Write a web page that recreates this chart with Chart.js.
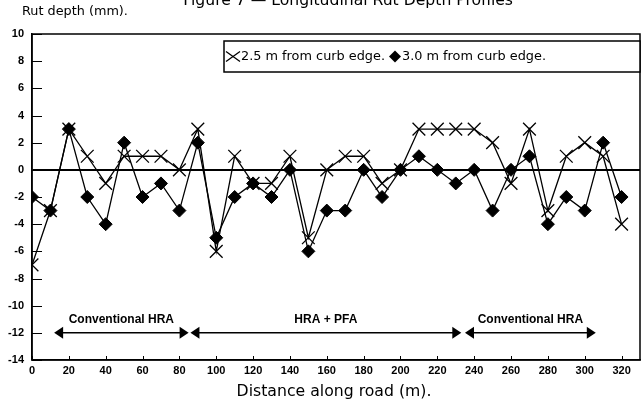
<!DOCTYPE html>
<html>
<head>
<meta charset="utf-8">
<script src="https://cdn.jsdelivr.net/npm/chart.js@4.4.1/dist/chart.umd.min.js"></script>
<style>
  html, body { margin: 0; padding: 0; background: #fff; }
  #wrap { width: 643px; height: 406px; position: relative; }
</style>
</head>
<body>
<div id="wrap"><canvas id="c" width="643" height="406"></canvas></div>
<script>
// ---- data ----
const distances = [0,10,20,30,40,50,60,70,80,90,100,110,120,130,140,150,160,170,180,190,200,210,220,230,240,250,260,270,280,290,300,310,320];
const rut25 = [-7,-3,3,1,-1,1,1,1,0,3,-6,1,-1,-1,1,-5,0,1,1,-1,0,3,3,3,3,2,-1,3,-3,1,2,1,-4];
const rut30 = [-2,-3,3,-2,-4,2,-2,-1,-3,2,-5,-2,-1,-2,0,-6,-3,-3,0,-2,0,1,0,-1,0,-3,0,1,-4,-2,-3,2,-2];
const xTickValues = [0,20,40,60,80,100,120,140,160,180,200,220,240,260,280,300,320];
const yTickValues = [-14,-12,-10,-8,-6,-4,-2,0,2,4,6,8,10];
const seriesNames = ['2.5 m from curb edge.', '3.0 m from curb edge.'];
const sectionLabels = ['Conventional HRA', 'HRA + PFA', 'Conventional HRA'];
const sectionStarts = [12, 86, 235];
const sectionEnds = [85, 233, 306];
const sectionLevel = -12;
const titleText = 'Figure 7 \u2014 Longitudinal Rut Depth Profiles';
const yTitle = 'Rut depth (mm).';
const xTitle = 'Distance along road (m).';

const FONT = '"Liberation Sans", Arial, Helvetica, sans-serif';
const TFONT = '"DejaVu Sans", "Liberation Sans", sans-serif';

function fitSize(ctx, text, width, weight, family) {
  ctx.font = weight + ' 20px ' + family;
  return 20 * width / ctx.measureText(text).width;
}

const decor = {
  id: 'decor',
  afterDraw(chart) {
    const {ctx, chartArea: a, scales: {x, y}} = chart;
    ctx.save();
    // frame
    ctx.strokeStyle = '#000';
    ctx.lineWidth = 1.5;
    ctx.strokeRect(a.left, a.top, a.right - a.left, a.bottom - a.top);
    // inward ticks
    ctx.lineWidth = 1;
    yTickValues.forEach(v => {
      const py = Math.round(y.getPixelForValue(v)) + 0.5;
      ctx.beginPath(); ctx.moveTo(a.left, py); ctx.lineTo(a.left + 10, py); ctx.stroke();
    });
    xTickValues.forEach(v => {
      const px = Math.round(x.getPixelForValue(v)) + 0.5;
      ctx.beginPath(); ctx.moveTo(px, a.bottom); ctx.lineTo(px, a.bottom - 4); ctx.stroke();
    });
    // section arrows
    const ay = y.getPixelForValue(sectionLevel);
    const ly = y.getPixelForValue(sectionLevel + 1);
    ctx.fillStyle = '#000';
    ctx.font = 'bold 12px ' + FONT;
    ctx.textAlign = 'center';
    ctx.textBaseline = 'middle';
    sectionLabels.forEach((lab, i) => {
      const x0 = x.getPixelForValue(sectionStarts[i]);
      const x1 = x.getPixelForValue(sectionEnds[i]);
      ctx.lineWidth = 1.5;
      ctx.beginPath(); ctx.moveTo(x0 + 6, ay); ctx.lineTo(x1 - 6, ay); ctx.stroke();
      ctx.beginPath(); ctx.moveTo(x0, ay); ctx.lineTo(x0 + 9, ay - 6); ctx.lineTo(x0 + 9, ay + 6); ctx.closePath(); ctx.fill();
      ctx.beginPath(); ctx.moveTo(x1, ay); ctx.lineTo(x1 - 9, ay - 6); ctx.lineTo(x1 - 9, ay + 6); ctx.closePath(); ctx.fill();
      ctx.fillText(lab, (x0 + x1) / 2, ly);
    });
    // legend box
    const bx = 224, by = 41, bw = a.right - bx, bh = 31;
    ctx.fillStyle = '#fff';
    ctx.fillRect(bx, by, bw, bh);
    ctx.lineWidth = 1.5;
    ctx.strokeRect(bx, by, bw, bh);
    const cy = by + bh / 2;
    ctx.lineWidth = 1.3;
    const mx = 233;
    ctx.beginPath();
    ctx.moveTo(mx - 7, cy - 5); ctx.lineTo(mx + 7, cy + 5);
    ctx.moveTo(mx - 7, cy + 5); ctx.lineTo(mx + 7, cy - 5);
    ctx.stroke();
    const dx = 395;
    ctx.fillStyle = '#000';
    ctx.beginPath();
    ctx.moveTo(dx, cy - 6); ctx.lineTo(dx + 6, cy); ctx.lineTo(dx, cy + 6); ctx.lineTo(dx - 6, cy); ctx.closePath(); ctx.fill();
    const ls = fitSize(ctx, seriesNames[0], 144, 'normal', TFONT);
    ctx.font = ls.toFixed(2) + 'px ' + TFONT;
    ctx.textAlign = 'left';
    ctx.fillText(seriesNames[0], 241, cy);
    ctx.fillText(seriesNames[1], 402, cy);
    // title (cut at the top of the picture)
    const ts = fitSize(ctx, titleText, 330, 'normal', TFONT);
    ctx.font = ts.toFixed(2) + 'px ' + TFONT;
    ctx.textAlign = 'right';
    ctx.textBaseline = 'alphabetic';
    ctx.fillText(titleText, 513, 5);
    // axis titles
    const ys = fitSize(ctx, yTitle, 106, 'normal', TFONT);
    ctx.font = ys.toFixed(2) + 'px ' + TFONT;
    ctx.textAlign = 'left';
    ctx.textBaseline = 'middle';
    ctx.fillText(yTitle, 22, 12);
    const xs = fitSize(ctx, xTitle, 195, 'normal', TFONT);
    ctx.font = xs.toFixed(2) + 'px ' + TFONT;
    ctx.textAlign = 'center';
    ctx.fillText(xTitle, 334, 392);
    ctx.restore();
  }
};

new Chart(document.getElementById('c'), {
  type: 'line',
  data: {
    datasets: [
      {
        label: seriesNames[0],
        data: distances.map((d, i) => ({x: d, y: rut25[i]})),
        borderColor: '#000', backgroundColor: '#000', borderWidth: 1.3,
        pointStyle: 'crossRot', pointRadius: 9, pointBorderWidth: 1.3,
        tension: 0, fill: false
      },
      {
        label: seriesNames[1],
        data: distances.map((d, i) => ({x: d, y: rut30[i]})),
        borderColor: '#000', backgroundColor: '#000', borderWidth: 1.3,
        pointStyle: 'rectRot', pointRadius: 6.5, pointBorderWidth: 1,
        tension: 0, fill: false
      }
    ]
  },
  options: {
    responsive: false,
    animation: false,
    layout: { autoPadding: false, padding: { top: 34, right: 3, left: 0, bottom: 0 } },
    plugins: { legend: { display: false }, title: { display: false }, tooltip: { enabled: false } },
    scales: {
      x: {
        type: 'linear', min: 0, max: 330,
        afterBuildTicks: s => { s.ticks = xTickValues.map(v => ({value: v})); },
        afterFit: s => { s.height = 46; s.paddingRight = 0; },
        grid: { display: false, drawTicks: false },
        border: { display: true, color: '#000', width: 1.5 },
        ticks: { color: '#000', font: { family: FONT, size: 11, weight: 'bold' }, padding: 4, maxRotation: 0, autoSkip: false }
      },
      y: {
        type: 'linear', min: -14, max: 10,
        afterBuildTicks: s => { s.ticks = yTickValues.map(v => ({value: v})); },
        afterFit: s => { s.width = 32; },
        grid: {
          drawTicks: false,
          color: c => (c.tick && c.tick.value === 0) ? '#000' : 'rgba(0,0,0,0)',
          lineWidth: c => (c.tick && c.tick.value === 0) ? 2 : 0
        },
        border: { display: true, color: '#000', width: 1.5 },
        ticks: { color: '#000', font: { family: FONT, size: 11, weight: 'bold' }, padding: 8 }
      }
    }
  },
  plugins: [decor]
});
</script>
</body>
</html>
